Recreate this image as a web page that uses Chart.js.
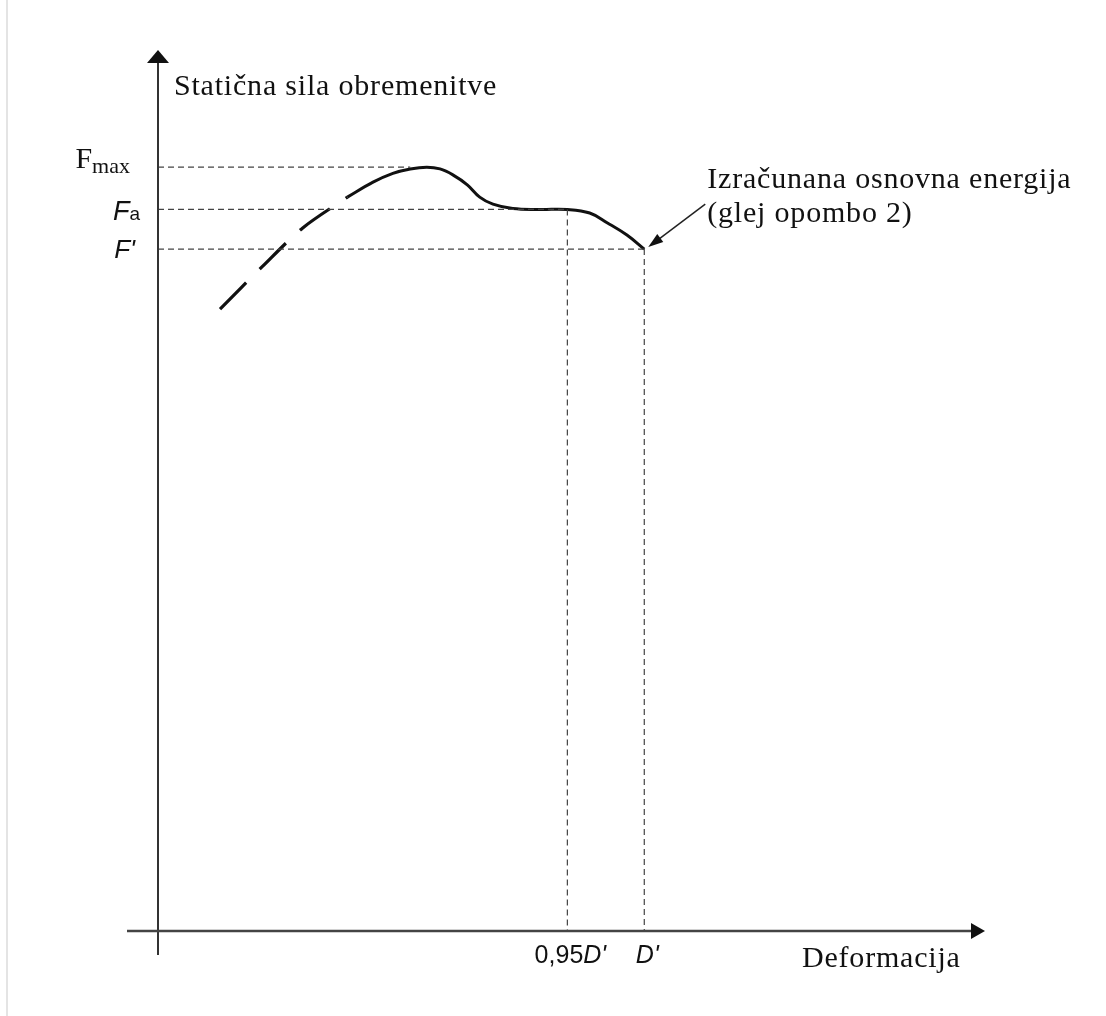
<!DOCTYPE html>
<html>
<head>
<meta charset="utf-8">
<script src="https://cdn.jsdelivr.net/npm/chart.js@4.4.0/dist/chart.umd.min.js"></script>
<style>
  html, body { margin: 0; padding: 0; background: #fff; }
  canvas { display: block; }
</style>
</head>
<body>
<canvas id="forceChart" width="1106" height="1016"></canvas>
<script>
// deformation (x) / static load force (y), arbitrary units on 0..100 axes
const riseX = [7.5, 12.6, 17.5, 22.9];
const riseY = [70.6, 75.4, 79.8, 83.3];
const curveX = [22.9, 26.0, 28.4, 30.5, 32.5, 34.1, 35.7, 37.4, 38.9, 40.5, 42.9, 46.2, 49.5, 52.2, 54.3, 56.7, 58.8];
const curveY = [83.3, 85.0, 86.0, 86.5, 86.7, 86.5, 85.8, 84.7, 83.3, 82.5, 82.0, 81.9, 81.9, 81.5, 80.4, 79.0, 77.4];

const forceLevels = [86.7, 81.9, 77.4];   // Fmax, Fa, F'
const levelEndX = [30.5, 49.5, 58.8];     // where the dashed level meets the curve
const deformTicks = [49.5, 58.8];         // 0,95D', D'
const deformTickTop = [81.9, 77.4];

const toPoints = (xs, ys) => xs.map((x, i) => ({ x: x, y: ys[i] }));

const SERIF = '"Liberation Serif", "Times New Roman", serif';
const SANS = '"Liberation Sans", Arial, sans-serif';

// rich labels for the force levels
const levelLabels = [
    { parts: [{ t: 'F', f: '30px ' + SERIF }, { t: 'max', f: '22px ' + SERIF, dy: 5 }], right: 130, dy: 1 },
    { parts: [{ t: 'F', f: 'italic 27px ' + SANS }, { t: 'a', f: '19px ' + SANS }], right: 140, dy: 11 },
    { parts: [{ t: "F'", f: 'italic 26px ' + SANS }], right: 135, dy: 9 }
];
const tickLabels = [
    [{ t: '0,95', f: '25px ' + SANS }, { t: "D'", f: 'italic 25px ' + SANS }],
    [{ t: "D'", f: 'italic 25px ' + SANS }]
];

function drawParts(ctx, parts, x, y, align) {
    let total = 0;
    parts.forEach(p => { ctx.font = p.f; total += ctx.measureText(p.t).width; });
    let cx = align === 'right' ? x - total : align === 'center' ? x - total / 2 : x;
    ctx.textAlign = 'left';
    ctx.textBaseline = 'alphabetic';
    parts.forEach(p => {
        ctx.font = p.f;
        ctx.fillText(p.t, cx, y + (p.dy || 0));
        cx += ctx.measureText(p.t).width;
    });
}

const sketchPlugin = {
    id: 'sketch',
    beforeDraw(chart) {
        const { ctx, width, height } = chart;
        ctx.save();
        ctx.fillStyle = '#fff';
        ctx.fillRect(0, 0, width, height);
        ctx.strokeStyle = '#e4e4e4';
        ctx.lineWidth = 2;
        ctx.beginPath();
        ctx.moveTo(7, 0);
        ctx.lineTo(7, height);
        ctx.stroke();
        ctx.restore();
    },
    afterDatasetsDraw(chart) {
        const ctx = chart.ctx;
        const xs = chart.scales.x, ys = chart.scales.y;
        const x0 = xs.getPixelForValue(0), y0 = ys.getPixelForValue(0);
        const xEnd = xs.getPixelForValue(100), yTop = ys.getPixelForValue(100);

        ctx.save();
        // axes
        ctx.strokeStyle = '#333';
        ctx.fillStyle = '#111';
        ctx.lineWidth = 2;
        ctx.beginPath();
        ctx.moveTo(x0, y0 + 24);
        ctx.lineTo(x0, yTop + 10);
        ctx.stroke();
        ctx.beginPath();
        ctx.moveTo(x0, yTop);
        ctx.lineTo(x0 - 11, yTop + 13);
        ctx.lineTo(x0 + 11, yTop + 13);
        ctx.closePath();
        ctx.fill();

        ctx.lineWidth = 2.5;
        ctx.strokeStyle = '#444';
        ctx.beginPath();
        ctx.moveTo(x0 - 31, y0);
        ctx.lineTo(xEnd - 8, y0);
        ctx.stroke();
        ctx.beginPath();
        ctx.moveTo(xEnd, y0);
        ctx.lineTo(xEnd - 14, y0 - 8);
        ctx.lineTo(xEnd - 14, y0 + 8);
        ctx.closePath();
        ctx.fill();

        // level labels
        ctx.fillStyle = '#111';
        forceLevels.forEach((v, i) => {
            const lab = levelLabels[i];
            drawParts(ctx, lab.parts, lab.right, ys.getPixelForValue(v) + lab.dy, 'right');
        });
        // deformation tick labels
        deformTicks.forEach((v, i) => {
            drawParts(ctx, tickLabels[i], xs.getPixelForValue(v) + 3, y0 + 32, 'center');
        });

        // axis titles
        ctx.font = '30px ' + SERIF;
        ctx.textAlign = 'left';
        ctx.letterSpacing = '0.8px';
        ctx.fillText('Statična sila obremenitve', x0 + 16, yTop + 45);
        ctx.fillText('Deformacija', xEnd - 183, y0 + 36);

        // annotation at the end point
        const px = xs.getPixelForValue(deformTicks[1]);
        const py = ys.getPixelForValue(deformTickTop[1]);
        ctx.fillText('Izračunana osnovna energija', px + 63, py - 61);
        ctx.fillText('(glej opombo 2)', px + 63, py - 27);
        ctx.letterSpacing = '0px';

        const tipX = px + 4, tipY = py - 2;
        const tailX = px + 61, tailY = py - 45;
        const ang = Math.atan2(tipY - tailY, tipX - tailX);
        ctx.strokeStyle = '#222';
        ctx.lineWidth = 1.5;
        ctx.beginPath();
        ctx.moveTo(tailX, tailY);
        ctx.lineTo(tipX - 10 * Math.cos(ang), tipY - 10 * Math.sin(ang));
        ctx.stroke();
        ctx.beginPath();
        ctx.moveTo(tipX, tipY);
        ctx.lineTo(tipX - 15 * Math.cos(ang) + 5 * Math.sin(ang), tipY - 15 * Math.sin(ang) - 5 * Math.cos(ang));
        ctx.lineTo(tipX - 15 * Math.cos(ang) - 5 * Math.sin(ang), tipY - 15 * Math.sin(ang) + 5 * Math.cos(ang));
        ctx.closePath();
        ctx.fill();
        ctx.restore();
    }
};

const guide = (points) => ({
    data: points,
    borderColor: '#444',
    borderWidth: 1.2,
    borderDash: [6, 4],
    pointRadius: 0,
    tension: 0,
    clip: false
});

const guides = [];
forceLevels.forEach((v, i) => guides.push(guide([{ x: 0, y: v }, { x: levelEndX[i], y: v }])));
deformTicks.forEach((v, i) => guides.push(guide([{ x: v, y: deformTickTop[i] }, { x: v, y: 0 }])));

new Chart(document.getElementById('forceChart'), {
    type: 'line',
    data: {
        datasets: [
            ...guides,
            {
                data: toPoints(riseX, riseY),
                borderColor: '#111',
                borderWidth: 3.2,
                borderDash: [37, 19],
                pointRadius: 0,
                tension: 0.3,
                borderCapStyle: 'butt'
            },
            {
                data: toPoints(curveX, curveY),
                borderColor: '#111',
                borderWidth: 3,
                pointRadius: 0,
                tension: 0.4
            }
        ]
    },
    options: {
        responsive: false,
        devicePixelRatio: 1,
        animation: false,
        layout: { padding: { left: 158, right: 121, top: 50, bottom: 85 } },
        scales: {
            x: { type: 'linear', min: 0, max: 100, display: false },
            y: { type: 'linear', min: 0, max: 100, display: false }
        },
        plugins: {
            legend: { display: false },
            tooltip: { enabled: false }
        }
    },
    plugins: [sketchPlugin]
});
</script>
</body>
</html>
